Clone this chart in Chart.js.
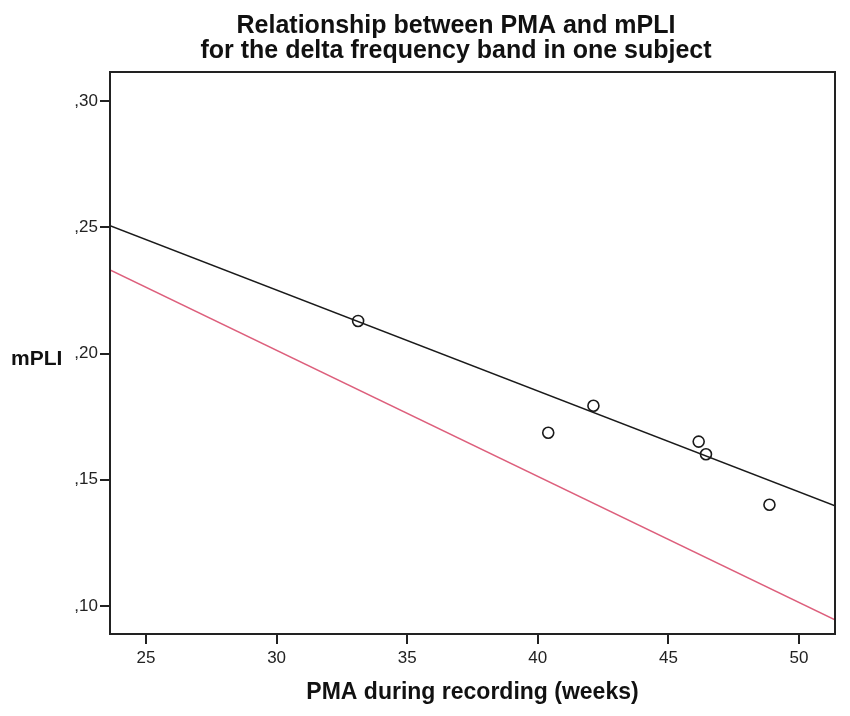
<!DOCTYPE html>
<html>
<head>
<meta charset="utf-8">
<script src="https://cdn.jsdelivr.net/npm/chart.js@4.4.1/dist/chart.umd.min.js"></script>
<style>
    html, body { margin: 0; padding: 0; background: #fff; }
    #wrap { width: 850px; height: 716px; position: relative; }
</style>
</head>
<body>
<div id="wrap"><canvas id="chart"></canvas></div>
<script>
// Données
const titleLines = ['Relationship between PMA and mPLI', 'for the delta frequency band in one subject'];
const xTitle = 'PMA during recording (weeks)';
const yTitle = 'mPLI';

const pma = [33.12, 40.40, 42.13, 46.16, 46.44, 48.87];
const mpli = [0.2129, 0.1686, 0.1793, 0.1651, 0.1601, 0.1401];

const xRange = [23.62, 51.38];
const yRange = [0.0889, 0.3115];
const xTicks = [25, 30, 35, 40, 45, 50];
const yTicks = [0.10, 0.15, 0.20, 0.25, 0.30];

// Droites : valeurs aux bords de l'axe x
const fitLine = [0.2506, 0.1397];
const refLine = [0.2331, 0.0945];

const fontFamily = 'Arial, "Liberation Sans", sans-serif';

const textPlugin = {
    id: 'texts',
    afterDraw(chart) {
        const { ctx, chartArea: a } = chart;
        const cx = (a.left + a.right) / 2;
        ctx.save();
        // cadre
        ctx.strokeStyle = '#222';
        ctx.lineWidth = 2;
        ctx.strokeRect(a.left, a.top, a.right - a.left, a.bottom - a.top);
        ctx.fillStyle = '#111';
        ctx.textAlign = 'center';
        ctx.textBaseline = 'alphabetic';
        ctx.font = 'bold 25px ' + fontFamily;
        ctx.fillText(titleLines[0], 456, 33);
        ctx.fillText(titleLines[1], 456, 58);
        ctx.font = 'bold 23px ' + fontFamily;
        ctx.fillText(xTitle, cx, 699);
        ctx.textAlign = 'left';
        ctx.font = 'bold 21px ' + fontFamily;
        ctx.fillText(yTitle, 11, 365);
        ctx.restore();
    }
};

const ctx = document.getElementById('chart').getContext('2d');
new Chart(ctx, {
    type: 'scatter',
    data: {
        datasets: [
            {
                data: pma.map((x, i) => ({ x, y: mpli[i] })),
                pointRadius: 5.5,
                pointHoverRadius: 5.5,
                pointBorderWidth: 1.6,
                pointBorderColor: '#1a1a1a',
                pointBackgroundColor: 'rgba(255,255,255,0)',
                order: 0
            },
            {
                type: 'line',
                data: xRange.map((x, i) => ({ x, y: fitLine[i] })),
                borderColor: '#1a1a1a',
                borderWidth: 1.6,
                pointRadius: 0,
                order: 1
            },
            {
                type: 'line',
                data: xRange.map((x, i) => ({ x, y: refLine[i] })),
                borderColor: '#dd5f7c',
                borderWidth: 1.6,
                pointRadius: 0,
                order: 2
            }
        ]
    },
    options: {
        responsive: true,
        maintainAspectRatio: false,
        animation: false,
        layout: { padding: { top: 72, right: 15, left: 0, bottom: 0 } },
        plugins: {
            legend: { display: false },
            tooltip: { enabled: false }
        },
        scales: {
            x: {
                type: 'linear',
                min: xRange[0],
                max: xRange[1],
                afterBuildTicks: (s) => { s.ticks = xTicks.map(v => ({ value: v })); },
                afterFit: (s) => { s.height = 82; },
                grid: { drawOnChartArea: false, tickLength: 10, color: '#222', lineWidth: 2 },
                border: { display: false },
                ticks: {
                    color: '#222',
                    padding: 4,
                    maxRotation: 0,
                    font: { size: 17, family: fontFamily },
                    callback: (v) => String(v)
                }
            },
            y: {
                type: 'linear',
                min: yRange[0],
                max: yRange[1],
                afterBuildTicks: (s) => { s.ticks = yTicks.map(v => ({ value: v })); },
                afterFit: (s) => { s.width = 110; },
                grid: { drawOnChartArea: false, tickLength: 10, color: '#222', lineWidth: 2 },
                border: { display: false },
                ticks: {
                    color: '#222',
                    padding: 2,
                    font: { size: 17, family: fontFamily },
                    callback: (v) => v.toFixed(2).replace('0.', ',')
                }
            }
        }
    },
    plugins: [textPlugin]
});
</script>
</body>
</html>
